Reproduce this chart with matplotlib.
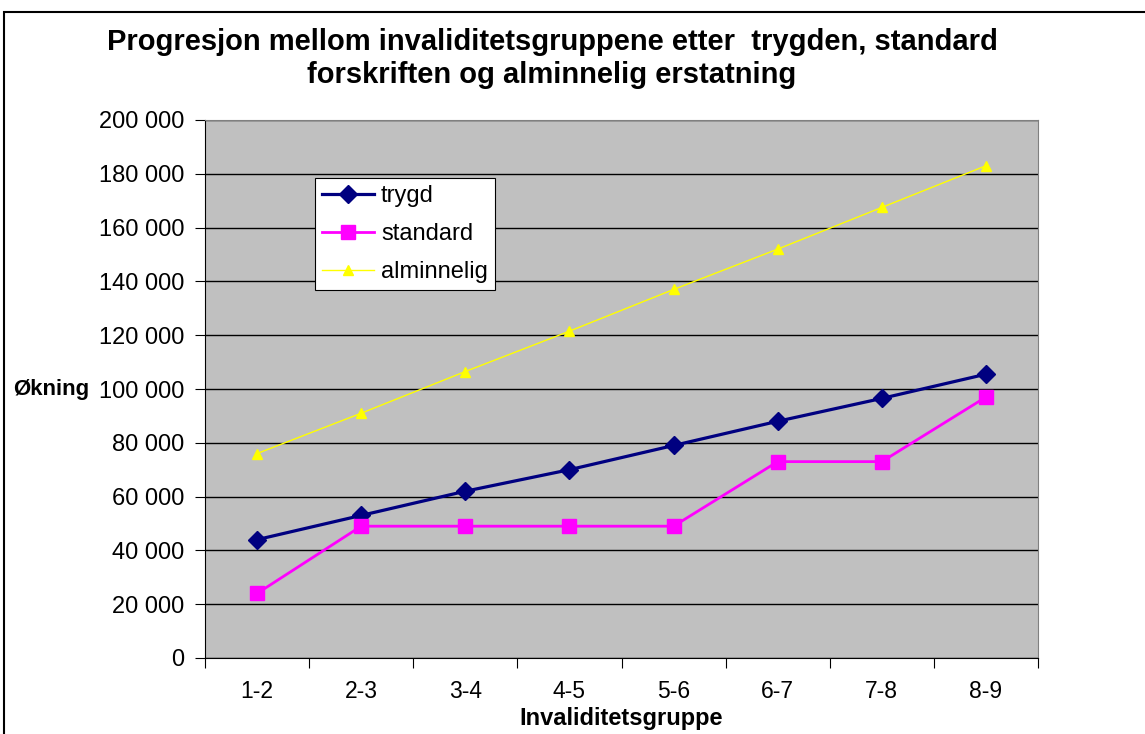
import numpy as np
import matplotlib as mpl
import matplotlib.pyplot as plt
from matplotlib.patches import Rectangle
from matplotlib.ticker import FuncFormatter

mpl.rcParams["font.family"] = ["Liberation Sans", "DejaVu Sans"]

# ===== DATA =====
groups = ["1-2", "2-3", "3-4", "4-5", "5-6", "6-7", "7-8", "8-9"]
trygd = [44000, 53000, 62000, 70000, 79000, 88000, 96500, 105500]
standard = [24000, 49000, 49000, 49000, 49000, 73000, 73000, 97000]
alminnelig = [76000, 91000, 106500, 121500, 137000, 152000, 167500, 183000]

# ===== FIGURE =====
fig = plt.figure(figsize=(11.45, 7.34), dpi=100)
fig.patches.append(Rectangle((4 / 1145, -0.1), 1.2, (734 - 12) / 734 + 0.1,
                             transform=fig.transFigure, fill=False,
                             edgecolor="black", lw=1.5, zorder=0))

ax = fig.add_axes([205 / 1145, 76 / 734, 833 / 1145, 538 / 734])
ax.set_facecolor("#C0C0C0")

x = np.arange(len(groups)) + 0.5
ax.plot(x, trygd, "-D", color="#000080", lw=2.3, ms=9, label="trygd", zorder=3)
ax.plot(x, standard, "-s", color="#FF00FF", lw=2.0, ms=10, label="standard", zorder=3)
ax.plot(x, alminnelig, "-^", color="#FFFF00", lw=1.0, ms=7, label="alminnelig", zorder=3)

ax.set_xlim(0, len(groups))
ax.set_ylim(0, 200000)
ax.set_yticks(np.arange(0, 200001, 20000))
ax.yaxis.set_major_formatter(FuncFormatter(lambda v, p: f"{int(v):,}".replace(",", " ")))
ax.yaxis.grid(True, color="black", lw=1.0)
ax.set_axisbelow(True)

# category-boundary ticks, labels centered in categories
ax.set_xticks(np.arange(0, len(groups) + 1))
ax.set_xticklabels([])
ax.set_xticks(x, minor=True)
ax.set_xticklabels(groups, minor=True)
ax.tick_params(axis="x", which="minor", length=0, pad=16, labelsize=16.5)
ax.tick_params(axis="x", which="major", length=7, direction="out")
ax.tick_params(axis="y", length=7, direction="out", labelsize=17, pad=8)

for s in ["top", "right"]:
    ax.spines[s].set_color("#808080")
ax.spines["left"].set_color("black")
ax.spines["bottom"].set_color("black")

fig.text(552 / 1145, 1 - 42 / 734,
         "Progresjon mellom invaliditetsgruppene etter  trygden, standard",
         ha="center", va="center", fontsize=21, fontweight="bold")
fig.text(552 / 1145, 1 - 75 / 734, "forskriften og alminnelig erstatning",
         ha="center", va="center", fontsize=21, fontweight="bold")
fig.text(51 / 1145, 1 - 390 / 734, "Økning", ha="center", va="center",
         fontsize=16, fontweight="bold")
fig.text(621 / 1145, 1 - 725 / 734, "Invaliditetsgruppe", ha="center",
         va="baseline", fontsize=17, fontweight="bold")

leg = ax.legend(loc="upper left", bbox_to_anchor=(110 / 833, 1 - 58 / 538),
                fontsize=17, frameon=True, fancybox=False, edgecolor="black",
                framealpha=1, borderpad=0.3, labelspacing=0.68,
                handlelength=2.2, handletextpad=0.3, borderaxespad=0)
leg.get_frame().set_linewidth(0.8)

fig.savefig("out.png", dpi=100)
